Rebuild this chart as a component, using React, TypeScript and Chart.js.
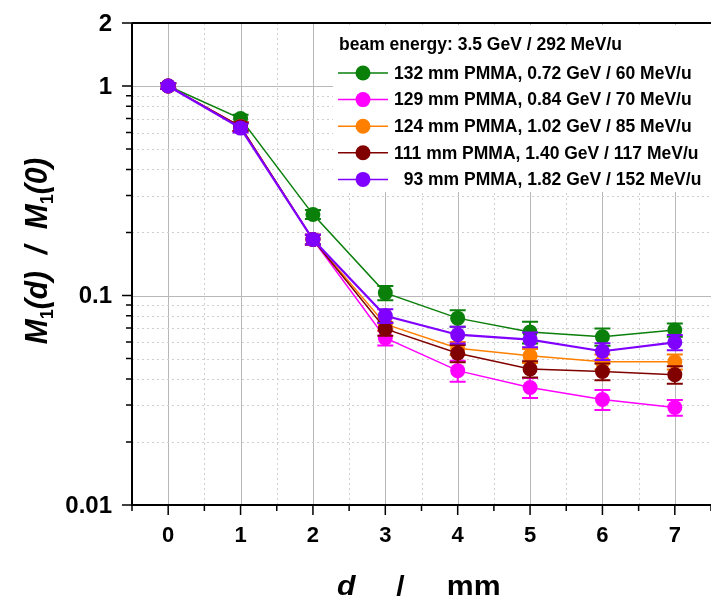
import React, { useEffect, useRef } from 'react';
import { Chart, registerables } from 'chart.js';

Chart.register(...registerables);

// ---------------- data ----------------
const depths = [0, 1, 2, 3, 4, 5, 6, 7];

const legendTitle = 'beam energy: 3.5 GeV / 292 MeV/u';
const seriesLabels = [
  '132 mm PMMA, 0.72 GeV / 60 MeV/u',
  '129 mm PMMA, 0.84 GeV / 70 MeV/u',
  '124 mm PMMA, 1.02 GeV / 85 MeV/u',
  '111 mm PMMA, 1.40 GeV / 117 MeV/u',
  '  93 mm PMMA, 1.82 GeV / 152 MeV/u',
];
const seriesColors = ['#0a7f0a', '#ff00ff', '#ff8000', '#800000', '#7f00ff'];

const pmma132 = [1, 0.70, 0.244, 0.103, 0.078, 0.067, 0.0636, 0.0685];
const pmma129 = [1, 0.64, 0.185, 0.0628, 0.0438, 0.0364, 0.0319, 0.0292];
const pmma124 = [1, 0.64, 0.185, 0.073, 0.056, 0.0516, 0.0483, 0.0483];
const pmma111 = [1, 0.64, 0.185, 0.0693, 0.053, 0.0446, 0.0434, 0.0419];
const pmma93 = [1, 0.63, 0.185, 0.080, 0.065, 0.0616, 0.0542, 0.0598];

const err132 = [0.03, 0.03, 0.012, 0.008, 0.007, 0.008, 0.006, 0.005];
const err129 = [0.03, 0.03, 0.01, 0.005, 0.005, 0.004, 0.0035, 0.0025];
const err124 = [0.03, 0.03, 0.01, 0.005, 0.004, 0.004, 0.004, 0.004];
const err111 = [0.03, 0.03, 0.01, 0.005, 0.005, 0.004, 0.004, 0.004];
const err93 = [0.03, 0.03, 0.01, 0.006, 0.006, 0.005, 0.005, 0.005];

const seriesValues = [pmma132, pmma129, pmma124, pmma111, pmma93];
const seriesErrors = [err132, err129, err124, err111, err93];

const xTickValues = [0, 1, 2, 3, 4, 5, 6, 7];
const xTickLabels = ['0', '1', '2', '3', '4', '5', '6', '7'];
const xMinorTicks = [-0.5, 0.5, 1.5, 2.5, 3.5, 4.5, 5.5, 6.5, 7.5];

const yTickValues = [0.01, 0.1, 1, 2];
const yTickLabels = ['0.01', '0.1', '1', '2'];
const yMinorTicks = [0.02, 0.03, 0.04, 0.05, 0.06, 0.07, 0.08, 0.09, 0.2, 0.3, 0.4, 0.5, 0.6, 0.7, 0.8, 0.9];

const xMin = -0.5;
const xMax = 7.5;
const yMin = 0.01;
const yMax = 2;

// ---------------- styling ----------------
const FONT = '"Liberation Sans", Arial, sans-serif';
const W = 711;
const H = 602;

const customPlugin = {
  id: 'customDecor',
  beforeDatasetsDraw(chart: any) {
    const { ctx, chartArea: a, scales } = chart;
    const x = scales.x;
    const y = scales.y;
    ctx.save();
    ctx.lineWidth = 1;
    // vertical grid
    xTickValues.forEach((v) => {
      const px = Math.round(x.getPixelForValue(v)) + 0.5;
      ctx.strokeStyle = '#b8b8b8';
      ctx.setLineDash([]);
      ctx.beginPath();
      ctx.moveTo(px, a.top);
      ctx.lineTo(px, a.bottom);
      ctx.stroke();
    });
    xMinorTicks.forEach((v) => {
      if (v <= xMin || v >= xMax) return;
      const px = Math.round(x.getPixelForValue(v)) + 0.5;
      ctx.strokeStyle = '#cfcfcf';
      ctx.setLineDash([2, 3]);
      ctx.beginPath();
      ctx.moveTo(px, a.top);
      ctx.lineTo(px, a.bottom);
      ctx.stroke();
    });
    // horizontal grid
    yTickValues.forEach((v) => {
      if (v <= yMin || v >= yMax) return;
      const py = Math.round(y.getPixelForValue(v)) + 0.5;
      ctx.strokeStyle = '#b8b8b8';
      ctx.setLineDash([]);
      ctx.beginPath();
      ctx.moveTo(a.left, py);
      ctx.lineTo(a.right, py);
      ctx.stroke();
    });
    yMinorTicks.forEach((v) => {
      const py = Math.round(y.getPixelForValue(v)) + 0.5;
      ctx.strokeStyle = '#cfcfcf';
      ctx.setLineDash([2, 3]);
      ctx.beginPath();
      ctx.moveTo(a.left, py);
      ctx.lineTo(a.right, py);
      ctx.stroke();
    });
    ctx.setLineDash([]);

    // legend background (covers grid)
    ctx.fillStyle = '#ffffff';
    ctx.fillRect(333, a.top + 2, a.right - 333, 192 - a.top - 2);
    ctx.restore();
  },
  beforeDatasetDraw(chart: any, args: any) {
    const { ctx, scales } = chart;
    const x = scales.x;
    const y = scales.y;
    const ds = chart.data.datasets[args.index];
    const errs: number[] = ds.errors;
    if (!errs) return;
    ctx.save();
    ctx.strokeStyle = ds.borderColor;
    ctx.lineWidth = 2;
    ds.data.forEach((p: any, i: number) => {
      const e = errs[i];
      const px = x.getPixelForValue(p.x);
      const pTop = y.getPixelForValue(p.y + e);
      const pBot = y.getPixelForValue(Math.max(p.y - e, yMin));
      ctx.beginPath();
      ctx.moveTo(px, pTop);
      ctx.lineTo(px, pBot);
      ctx.moveTo(px - 8, pTop);
      ctx.lineTo(px + 8, pTop);
      ctx.moveTo(px - 8, pBot);
      ctx.lineTo(px + 8, pBot);
      ctx.stroke();
    });
    ctx.restore();
  },
  afterDraw(chart: any) {
    const { ctx, chartArea: a, scales } = chart;
    const x = scales.x;
    const y = scales.y;
    ctx.save();

    // axes / frame
    ctx.strokeStyle = '#000';
    ctx.lineWidth = 2;
    ctx.beginPath();
    ctx.moveTo(a.left, a.top);
    ctx.lineTo(a.left, a.bottom);
    ctx.lineTo(a.right, a.bottom);
    ctx.moveTo(a.left, a.top);
    ctx.lineTo(a.right, a.top);
    ctx.stroke();

    // tick marks
    ctx.lineWidth = 1.5;
    ctx.beginPath();
    xTickValues.forEach((v) => {
      const px = x.getPixelForValue(v);
      ctx.moveTo(px, a.bottom);
      ctx.lineTo(px, a.bottom + 10);
    });
    xMinorTicks.forEach((v) => {
      const px = x.getPixelForValue(v);
      ctx.moveTo(px, a.bottom);
      ctx.lineTo(px, a.bottom + 6);
    });
    yTickValues.forEach((v) => {
      const py = y.getPixelForValue(v);
      ctx.moveTo(a.left, py);
      ctx.lineTo(a.left - 10, py);
    });
    yMinorTicks.forEach((v) => {
      const py = y.getPixelForValue(v);
      ctx.moveTo(a.left, py);
      ctx.lineTo(a.left - 6, py);
    });
    ctx.stroke();

    // tick labels
    ctx.fillStyle = '#000';
    ctx.font = `bold 24px ${FONT}`;
    ctx.textAlign = 'right';
    ctx.textBaseline = 'middle';
    yTickValues.forEach((v, i) => {
      ctx.fillText(yTickLabels[i], a.left - 20, y.getPixelForValue(v) + 1);
    });
    ctx.font = `bold 22px ${FONT}`;
    ctx.textAlign = 'center';
    ctx.textBaseline = 'alphabetic';
    xTickValues.forEach((v, i) => {
      ctx.fillText(xTickLabels[i], x.getPixelForValue(v), a.bottom + 37);
    });

    // legend
    ctx.fillStyle = '#000';
    ctx.textBaseline = 'middle';
    ctx.textAlign = 'left';
    ctx.font = `bold 17.5px ${FONT}`;
    ctx.fillText(legendTitle, 339, 45);
    chart.data.datasets.forEach((ds: any, i: number) => {
      const cy = 73 + i * 26.6;
      ctx.strokeStyle = ds.borderColor;
      ctx.lineWidth = 1.5;
      ctx.beginPath();
      ctx.moveTo(338, cy);
      ctx.lineTo(388, cy);
      ctx.stroke();
      ctx.fillStyle = ds.backgroundColor;
      ctx.beginPath();
      ctx.arc(363, cy, 7.5, 0, Math.PI * 2);
      ctx.fill();
      ctx.fillStyle = '#000';
      ctx.fillText(ds.label, 394, cy + 1);
    });

    // y axis title: M1(d) / M1(0)
    const big = `italic bold 30px ${FONT}`;
    const sub = `bold 18px ${FONT}`;
    const parts = [
      { t: 'M', f: big, dy: 0 },
      { t: '1', f: sub, dy: 6 },
      { t: '(d)  /  ', f: big, dy: 0 },
      { t: 'M', f: big, dy: 0 },
      { t: '1', f: sub, dy: 6 },
      { t: '(0)', f: big, dy: 0 },
    ];
    let total = 0;
    parts.forEach((p) => {
      ctx.font = p.f;
      total += ctx.measureText(p.t).width;
    });
    ctx.save();
    ctx.translate(47, 251);
    ctx.rotate(-Math.PI / 2);
    ctx.scale(1, 1.05);
    ctx.textBaseline = 'alphabetic';
    ctx.textAlign = 'left';
    ctx.fillStyle = '#000';
    let cx = -total / 2;
    parts.forEach((p) => {
      ctx.font = p.f;
      ctx.fillText(p.t, cx, p.dy);
      cx += ctx.measureText(p.t).width;
    });
    ctx.restore();

    // x axis title: d / mm
    ctx.save();
    ctx.textBaseline = 'alphabetic';
    ctx.textAlign = 'left';
    ctx.fillStyle = '#000';
    ctx.font = `italic bold 27px ${FONT}`;
    ctx.translate(337, 595);
    ctx.scale(1.12, 1);
    ctx.fillText('d', 0, 0);
    ctx.font = `bold 27px ${FONT}`;
    ctx.fillText('/', 53, 0);
    ctx.fillText('mm', 98, 0);
    ctx.restore();

    ctx.restore();
  },
};

export default function App() {
  const ref = useRef<HTMLCanvasElement | null>(null);
  useEffect(() => {
    document.body.style.margin = '0';
    const canvas = ref.current;
    if (!canvas) return;
    const datasets = seriesValues.map((vals, si) => ({
      label: seriesLabels[si],
      data: depths.map((d, i) => ({ x: d, y: vals[i] })),
      errors: seriesErrors[si],
      borderColor: seriesColors[si],
      backgroundColor: seriesColors[si],
      pointBackgroundColor: seriesColors[si],
      pointBorderColor: seriesColors[si],
      pointBorderWidth: 0,
      pointRadius: 7.5,
      pointHoverRadius: 7.5,
      borderWidth: si === 4 ? 2.2 : 1.5,
      fill: false,
      tension: 0,
      order: 5 - si,
    }));
    const chart = new Chart(canvas, {
      type: 'line',
      data: { datasets } as any,
      options: {
        animation: false,
        responsive: false,
        maintainAspectRatio: false,
        layout: { autoPadding: false, padding: { top: 23, right: 0, left: 0, bottom: 0 } },
        plugins: {
          legend: { display: false },
          tooltip: { enabled: false },
        },
        scales: {
          x: {
            type: 'linear',
            min: xMin,
            max: xMax,
            afterBuildTicks: (s: any) => {
              s.ticks = xTickValues.map((v) => ({ value: v }));
            },
            afterFit: (s: any) => {
              s.height = 97;
            },
            grid: { display: false, drawTicks: false },
            border: { display: false },
            ticks: { display: false },
          },
          y: {
            type: 'logarithmic',
            min: yMin,
            max: yMax,
            afterBuildTicks: (s: any) => {
              s.ticks = yTickValues.map((v) => ({ value: v }));
            },
            afterFit: (s: any) => {
              s.width = 132;
            },
            grid: { display: false, drawTicks: false },
            border: { display: false },
            ticks: { display: false },
          },
        },
      } as any,
      plugins: [customPlugin],
    });
    return () => chart.destroy();
  }, []);
  return (
    <div style={{ width: W, height: H }}>
      <canvas ref={ref} width={W} height={H} style={{ display: 'block', width: W, height: H }} />
    </div>
  );
}
